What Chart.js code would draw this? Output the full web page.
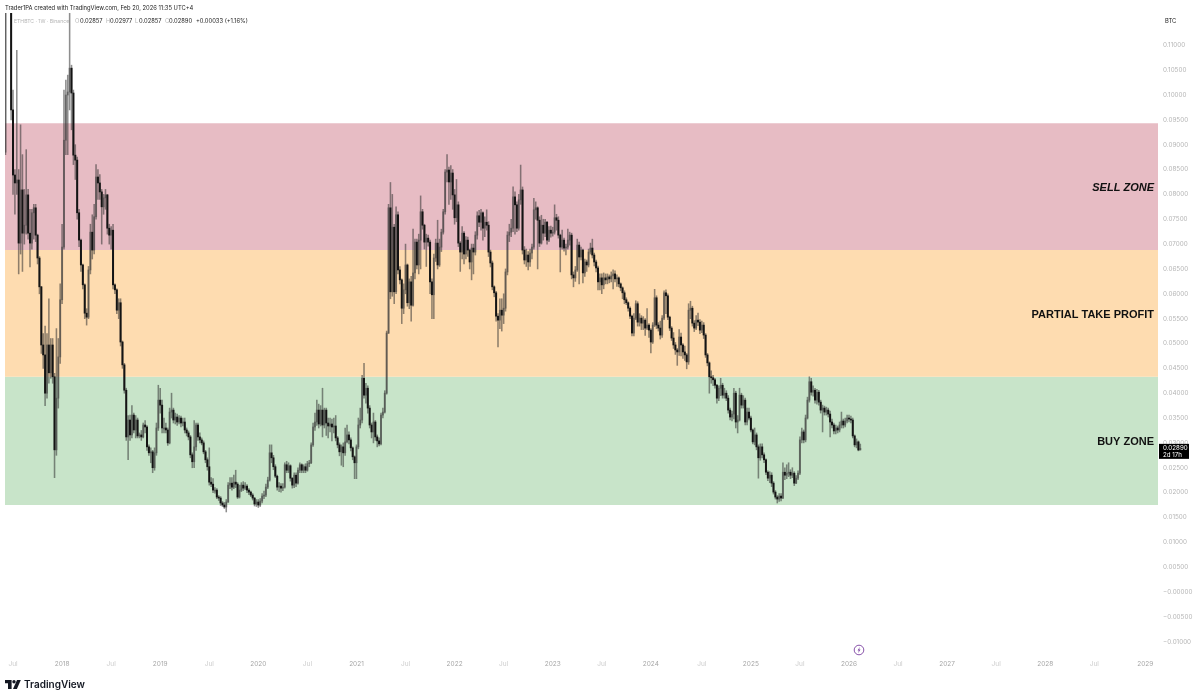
<!DOCTYPE html>
<html>
<head>
<meta charset="utf-8">
<title>ETHBTC 1W</title>
<script src="https://cdn.jsdelivr.net/npm/chart.js@4/dist/chart.umd.min.js"></script>
<style>
  html, body { margin: 0; padding: 0; background: #fff; }
  body { width: 1200px; height: 699px; position: relative; overflow: hidden; font-family: Inter, "Liberation Sans", sans-serif; }
  canvas { position: absolute; left: 0; top: 0; }
  .txt { position: absolute; font-size: 5.8px; line-height: 8px; white-space: nowrap; color: #222; }
  .dim { color: #b5b5b5; }
  #brand { position: absolute; left: 24px; top: 677px; font: 600 10px/14px Inter, sans-serif; color: #131722; }
</style>
</head>
<body>
<canvas id="chart" width="1200" height="699"></canvas>

<div class="txt" style="left:5px;top:4px">Trader1PA created with TradingView.com, Feb 20, 2026 11:35 UTC+4</div>
<div class="txt dim" style="left:14px;top:17px;font-size:5.1px">ETHBTC · 1W · Binance</div>
<div class="txt dim" style="left:75px;top:17px">O</div><div class="txt" style="left:80px;top:17px">0.02857</div>
<div class="txt dim" style="left:106px;top:17px">H</div><div class="txt" style="left:110px;top:17px">0.02977</div>
<div class="txt dim" style="left:135px;top:17px">L</div><div class="txt" style="left:139px;top:17px">0.02857</div>
<div class="txt dim" style="left:165px;top:17px">C</div><div class="txt" style="left:169px;top:17px">0.02890</div>
<div class="txt" style="left:196px;top:17px">+0.00033 (+1.16%)</div>
<div class="txt" style="left:1165px;top:17px">BTC</div>

<svg style="position:absolute;left:853px;top:644px" width="12" height="12" viewBox="0 0 12 12">
  <circle cx="6" cy="6" r="4.8" fill="#fff" stroke="#7b3fa0" stroke-width="0.9"/>
  <path d="M6.9 2.8 L4.6 6.4 H5.9 L5.1 9.2 L7.5 5.5 H6.1 Z" fill="#7b3fa0"/>
</svg>

<svg style="position:absolute;left:5px;top:680px" width="16" height="9" viewBox="0 0 16 9">
  <path d="M0 0 H6.6 V9 H3 V3.2 H0 Z" fill="#131722"/>
  <circle cx="9" cy="1.7" r="1.7" fill="#131722"/>
  <path d="M12 0 H15.8 L11.9 9 H8 Z" fill="#131722"/>
</svg>
<div id="brand">TradingView</div>

<script>
// weekly ETHBTC candles, prices in thousandths of a BTC
// a candle opens on the close of the week before
const closes = [
  120,135,125,97,83.9,82.3,82.9,70.2,80.9,72.2,
  73.8,79.9,72.2,70.2,76.3,77.3,71.8,67.2,61.4,49.7,
  47.7,40,49.7,44.1,49.7,43.3,28.6,39,47.3,58.8,
  69.4,90.9,100,100.6,105.4,100.4,87.9,86.9,76.3,70.8,
  65.8,61.8,56.1,55.3,64.8,72.4,68.8,75.5,83.5,82.3,
  80.5,77.5,79.3,79.9,73.2,71.8,72.8,61.8,60.8,56.7,
  58.2,50.3,45.7,40.6,31.2,34.6,31.6,35.6,32.6,34.6,
  31.4,31.6,31.2,33.6,33.2,29.2,28,28.2,25,28,
  33,38.6,37.6,33,33,32.6,30,36.2,36.6,34.6,
  35.2,34.2,35,34,34.2,32.6,32,31.2,27.6,26.2,
  29.2,33.6,31.2,30.6,30,28.2,26.6,25.2,22.1,21.7,
  20.5,20.5,19.1,18.9,17.9,17.5,17.1,18.1,21.5,21.9,
  21.1,22.1,21.7,19.1,20.5,21.5,20.9,21.3,20.5,20.1,
  19.5,18.9,17.7,18.1,17.5,18.3,19.3,19.5,21.1,22.5,
  28,27,25.2,23.3,21.1,21.3,20.9,21.1,25.6,24.5,
  25.4,22.9,21.5,23.5,21.9,24.5,25.6,24.5,25.2,24.5,
  25.8,26,29.6,33.2,34.2,36.6,33.8,36.6,33.6,36.6,
  34,33.4,33.8,33.2,33.4,31,29.6,28.2,29.2,28,
  30.2,31.6,30.6,29,27.2,26,29.2,33.6,34.6,43,
  39.6,41,37,33.6,32.2,34.2,31.2,30.4,29.8,35.6,
  36.2,40,52.1,77.3,60.4,73.4,60.4,75.9,64.8,62.8,
  57.1,60.8,65.8,58.2,62.4,57.7,64.2,70.4,65.8,70.8,
  76.5,73.8,70.4,71.2,70.4,62.4,59.8,67.2,70.2,65.8,
  69.4,72.4,76.5,84.5,84.9,82.5,84.3,79.9,75.3,77.9,
  70.2,68.4,72.2,68,70.8,68.8,66.4,69.2,68.4,71.8,
  75.7,74.4,76.3,73.2,74.4,73.8,68.4,66.2,61.4,60.2,
  55.5,54.7,56.7,55.7,57.1,64.4,71.8,72.4,73.2,79.5,
  77.9,73.2,78.9,80.9,68.8,66.8,67.8,66.4,68.2,69.4,
  76.9,77.3,74.8,70.2,73.8,72.2,74.4,70.8,72.8,72.2,
  72.4,75.3,74.8,71.8,69.4,70.8,69.2,69.4,70.8,71.8,
  63.8,63.2,64.8,69.8,67.4,68.8,64.2,66.4,65.8,68.4,
  69.2,67.8,66.4,65.2,62.4,63.2,61.8,63.2,62.8,63.4,
  63,63.6,64,63,63.2,62,61.2,60.2,58.8,58.2,
  57.1,55.5,52.1,55.1,58,54.3,55.1,54.1,54.7,53.1,
  53.7,52.7,50.3,53.7,59.2,53.7,53.1,51.7,55.1,60.2,
  59.6,55.3,53.1,51.1,49.7,48.7,48.3,51.3,49.7,48.3,
  47.7,46.3,56.7,57.1,54.1,53.1,54.7,54.3,52.7,53.7,
  51.7,47.7,46.1,43.3,43.1,42.7,41.6,39,41,41.6,
  39.6,40,39,36.6,35.2,35.8,40,34.2,34.6,39.6,
  37.6,38.6,34.2,36.2,35,32.6,30.2,31.6,29.2,27,
  29.2,27.6,26.6,24.1,22.9,23.5,21.9,20.1,19.1,18.7,
  19.3,18.9,24.1,23.5,23.9,24.1,23.5,23.9,21.9,22.9,
  23.9,30.6,32.2,30.6,35,38.6,42.3,40.2,40.6,38.6,
  40.2,38.2,36.6,37,36.2,36.6,35.8,34.2,33.6,32.4,
  33,32.6,33.6,34.4,33.6,34.4,35,34.8,34.6,31.4,
  29.6,30.2,28.57,28.9
];
const highs = [
  125,150,140,128,101,85,109,85,94,88,
  81,89,81,77,77,78,78,72,67.5,61.5,
  52,53.5,52,59,51,51,44,53,51,62,
  74,101,103,104,130,106,101,90,87.5,77,
  71,66,62,57,65.5,74,75.9,78,86,85,
  84,81,80,81,80,74,73.5,74,62,61,
  59,59,50.5,46,41,35.5,35.6,37.5,36,35.5,
  35,32,32.5,34,34.5,33.5,29.6,29,28.5,29,
  34,41.6,41,38.6,35,34,33,37,40,37,
  36,35.8,35.5,35.4,35,35,33,32.4,31.5,28,
  34.5,34,34,32,31,30.4,28.5,27,29,23,
  22.8,21,20.8,19.4,19.2,18.2,18,18.6,22,23,
  23,23.5,24.5,22,21.5,22,22.2,22,21.6,20.8,
  20.3,19.8,19,18.6,18.6,18.8,19.8,20.3,21.7,23.1,
  29.6,29.6,27.5,25.6,23.5,22,21.8,21.8,26,26.3,
  26,25.6,23,24,24,25,26,25.8,25.6,25.8,
  26.3,26.5,30,34,36,38.6,37.8,37.5,41,37,
  37,35,35,34.8,35,35.5,31.3,30,29.6,30,
  33,33.6,32.2,31,29.2,27.4,29.6,35,37,43.6,
  46,42,41.5,37.5,34,36,34.5,31.6,31,36,
  37,40.5,52.5,78,82.4,80,74,77.5,76.5,65.5,
  63,62,70,66,63,63.5,73,71,71,72,
  79.7,77,74,72,71.8,70.8,63,68,71,74.8,
  71,73,77,85,88,85.5,85.8,85,81,83,
  78.5,70.5,73.5,72.5,71.5,71.4,69,70,70,72.5,
  76.5,76.8,77,76.5,75.5,76.9,74.5,68.8,66.6,61.6,
  60.5,56,59,59,60,65,72.5,74,75,81.5,
  80.5,78.5,80,85.9,81.5,69.5,69,68.5,69,70,
  79.2,78.5,77.5,75.5,75.8,75,75,74.6,73.5,73.6,
  73.4,77.9,76,75.5,72,72.8,71.2,70,73,72.4,
  72.2,64.4,65.5,71,70.4,69.4,69,67,66.8,69,
  70.2,71,68.2,66.8,65.6,64,64,64.2,64,64,
  63.8,64.4,64.8,64.6,63.8,63.4,62.2,61.4,60.6,59.2,
  58.4,57.4,55.7,56,58.6,58.4,56,55.6,55.4,55,
  57,54,53,54.2,60.9,59.6,54.2,54.5,55.6,60.6,
  60.8,60,55.5,53.4,52.2,50.2,49,52.8,52.1,50,
  49.5,48,58,58.5,57.5,54.6,55.6,56.1,54.8,54.5,
  54.2,52,48,46.3,44.5,43.6,43,41.8,41.5,43,
  42,41,40.5,39.5,37,36.4,41,40.4,35.5,41,
  40,39.5,39,37,37,35.4,32.8,33,32,29.6,
  29.8,29.8,28,26.8,24.4,24.2,24,22.2,20.4,19.4,
  19.8,19.8,26,25,25.6,26,24.6,25,24.2,23.4,
  24.4,31.2,33,32.6,35.6,39.2,43.3,43,41.5,41,
  40.8,40.6,38.6,37.6,37.4,37.2,37,36.4,34.8,34,
  33.6,33.4,34.2,36.2,34.8,35,35.6,35.6,35.4,35,
  31.6,30.8,30.4,29.77
];
const lows = [
  88,121,122,95,80,76,80,64,68,64.5,
  70,72,71,65.4,69,71,70.5,66,60,48,
  45,37.5,39,42,43,42,23,27.5,37,46,
  58,69,88,88,97,93,86,83,75,69.5,
  64.5,61,55,53.7,55,64,67,68,75,79,
  79,70,76,77,72,70,69,61,60,56,
  55,49.5,45,40,30.5,26.6,30.5,31,32,31,
  31,31,30.5,31,32,28.5,27.5,26,24,24.5,
  27.5,32.5,36,32,32,32,29.5,29.8,35,34,
  33.8,33.5,33.8,33.2,33.4,32,31.4,30.6,27,25,
  25,28.5,30.5,30,29.6,27.8,26,24.5,21.5,21.2,
  20,19.9,18.8,18.4,17.4,17.2,16.8,16.1,18,20.8,
  20.5,20.8,21,18.8,18.9,20.2,20.4,20.6,20,19.6,
  19.2,18.5,17.3,17.2,17,17.2,17.9,18.8,19.2,20.8,
  22.3,26,24.6,23,20.5,20.2,20.1,20.4,20.9,24,
  24,22.3,20.9,21,21.2,21.7,24,24,24,24,
  24.3,25.2,25.8,29.3,32.5,33.5,33,33.4,31.2,33,
  31.5,31,32.2,30.4,32,30.4,29,27.4,25.5,25.2,
  27.5,30,29.8,28.4,26.6,22.8,22.8,28.8,33,34,
  39,38,36,33,31,30,30.5,29.2,29.4,29.6,
  35,36,39.8,52,59,59.5,58,60,64,62,
  54,56,60,57.5,57,54.5,57.5,63,65,64,
  65,73,69,65.5,69.6,60,55,55,66.5,65,
  65.5,68.5,72,76,82.5,78,79,77,74,74.5,
  69.5,64.5,67,66,67,67.5,65,62.8,64,67.8,
  71,73.5,72.8,70.8,71.5,72.8,67.5,65.4,60.8,59.4,
  54.5,49.3,53,52.5,54,56.5,63.8,70.5,71.5,72.5,
  72,72.5,72.8,78,68,66,65.5,64.8,65.5,67,
  69,75,65,69.5,70,70.8,71.5,70,70.5,71.4,
  71.6,72,72.8,71.2,64.4,69,68.6,67.8,69,69.8,
  63,61.4,62.5,64.5,62,66.8,62.2,63.5,64.5,65.4,
  68,67.2,65.6,64.4,60.8,60.8,60,61,62,62,
  62.2,62.4,61,62.4,61.5,61.4,60.6,59,58,57.8,
  56.5,55,51.5,51.5,54.8,53.5,53.5,52.8,52.8,51.6,
  52.8,51.2,48.1,50,53.4,53,52.5,50.9,51.2,54.8,
  56,54.8,52.6,50.6,49,47.8,45.6,47.6,47.5,47,
  46.6,44.9,45.8,55,53.5,52.4,52.8,53.6,52,52.2,
  51,47.2,45.5,40,42,41.5,41,38,38.5,39.5,
  39,39,38.5,36,34.6,34.4,34.8,33,32,34.4,
  37,37,33.6,33.6,34.6,32.2,29.8,29.6,28.6,22.9,
  26.5,27,26,23.6,22.4,22,21.2,19.7,18.7,17.9,
  18.2,18.3,18.8,22.6,22.8,23.2,22.8,23,21.4,21.8,
  22.6,23.6,30,30,30.2,34.8,38.2,39.6,39.4,38,
  37.8,37.6,36,32.2,35.6,35.6,35.2,31.2,33,31.8,
  31.8,32,32.2,33,33,33.2,34,34.2,34,31,
  29.2,29,28.4,28.57
];

// zones: [bottom, top]
const sellZone = [68.8, 94.3];
const partialZone = [43.3, 68.8];
const buyZone = [17.5, 43.3];

// price axis
const priceTicks = [-10, -5, 0, 5, 10, 15, 20, 25, 30, 35, 40, 45, 50, 55, 60, 65, 70, 75, 80, 85, 90, 95, 100, 105, 110];
// time axis, tick position = week number of the candle
const timeTickWeeks = [4, 30, 56, 82, 108, 134, 160, 186, 212, 238, 264, 290, 316, 342, 369, 395, 421, 447, 473, 499, 525, 551, 577, 604];
const timeTickLabels = ['Jul', '2018', 'Jul', '2019', 'Jul', '2020', 'Jul', '2021', 'Jul', '2022', 'Jul', '2023', 'Jul', '2024', 'Jul', '2025', 'Jul', '2026', 'Jul', '2027', 'Jul', '2028', 'Jul', '2029'];

const firstWeek = -0.25;
const lastWeek = 610.75;

const bodies = closes.map((c, i) => ({ x: i, y: [i === 0 ? 88.5 : closes[i - 1], c] }));
const wicks = closes.map((c, i) => ({ x: i, y: [lows[i], highs[i]] }));
const bodyColors = closes.map((c, i) => (i > 0 && c < closes[i - 1]) ? '#141414' : 'rgba(60,60,60,0.52)');

function zoneDataset(zone, color) {
    return {
        type: 'line',
        data: [{ x: firstWeek, y: zone[1] }, { x: lastWeek, y: zone[1] }],
        borderWidth: 0,
        pointRadius: 0,
        backgroundColor: color,
        fill: { value: zone[0] },
        order: 3
    };
}

function formatPrice(v) {
    const s = (Math.abs(v) / 1000).toFixed(5);
    return v <= 0 ? '\u2212' + s : s;
}

const overlayPlugin = {
    id: 'overlay',
    afterDraw(chart) {
        const ctx = chart.ctx;
        const y = chart.scales.y;
        const right = chart.chartArea.right - 4;
        ctx.save();
        ctx.textAlign = 'right';
        ctx.textBaseline = 'middle';
        ctx.fillStyle = '#111';
        ctx.font = 'italic bold 11px "Liberation Sans", sans-serif';
        ctx.fillText('SELL ZONE', right, y.getPixelForValue((sellZone[0] + sellZone[1]) / 2) + 1.5);
        ctx.font = 'bold 11px "Liberation Sans", sans-serif';
        ctx.fillText('PARTIAL TAKE PROFIT', right, y.getPixelForValue((partialZone[0] + partialZone[1]) / 2) + 1.5);
        ctx.fillText('BUY ZONE', right, y.getPixelForValue((buyZone[0] + buyZone[1]) / 2) + 1.5);

        // last price tag
        const tagY = y.getPixelForValue(closes[closes.length - 1]);
        ctx.fillStyle = '#000';
        ctx.fillRect(chart.chartArea.right + 1, tagY - 4.5, 30, 15);
        ctx.fillStyle = '#fff';
        ctx.textAlign = 'left';
        ctx.font = '6.2px Inter, sans-serif';
        ctx.fillText(formatPrice(closes[closes.length - 1]), chart.chartArea.right + 5, tagY - 0.5);
        ctx.fillText('2d 17h', chart.chartArea.right + 5, tagY + 6.5);
        ctx.restore();
    }
};

new Chart(document.getElementById('chart'), {
    type: 'bar',
    data: {
        datasets: [
            zoneDataset(sellZone, '#e7bcc4'),
            zoneDataset(partialZone, '#fedcb0'),
            zoneDataset(buyZone, '#c8e4c9'),
            { data: wicks, backgroundColor: 'rgba(50,50,50,0.55)', barThickness: 0.9, grouped: false, order: 2 },
            { data: bodies, backgroundColor: bodyColors, barThickness: 1.35, minBarLength: 1, grouped: false, order: 1 }
        ]
    },
    options: {
        responsive: false,
        animation: false,
        events: [],
        layout: { padding: { left: 5, top: 13, right: 0, bottom: 0 } },
        plugins: { legend: { display: false }, tooltip: { enabled: false }, title: { display: false } },
        scales: {
            x: {
                type: 'linear',
                offset: false,
                min: firstWeek,
                max: lastWeek,
                grid: { display: false, drawTicks: false },
                border: { display: false },
                afterBuildTicks(scale) {
                    scale.ticks = timeTickWeeks.map(w => ({ value: w }));
                },
                afterFit(scale) {
                    scale.height = 44;
                },
                ticks: {
                    autoSkip: false,
                    maxRotation: 0,
                    padding: 5,
                    font: { family: 'Inter', size: 6.5 },
                    color: ctx => ctx.index % 2 === 0 ? '#cccccc' : '#a6a6a6',
                    callback: (value, index) => timeTickLabels[index]
                }
            },
            y: {
                position: 'right',
                min: -12.68,
                max: 116.5,
                grid: { display: false, drawTicks: false },
                border: { display: false },
                afterBuildTicks(scale) {
                    scale.ticks = priceTicks.map(v => ({ value: v }));
                },
                afterFit(scale) {
                    scale.width = 42;
                },
                ticks: {
                    autoSkip: false,
                    padding: 5,
                    font: { family: 'Inter', size: 6.3 },
                    color: '#b5b5b5',
                    callback: value => formatPrice(value)
                }
            }
        }
    },
    plugins: [overlayPlugin]
});
</script>
</body>
</html>
